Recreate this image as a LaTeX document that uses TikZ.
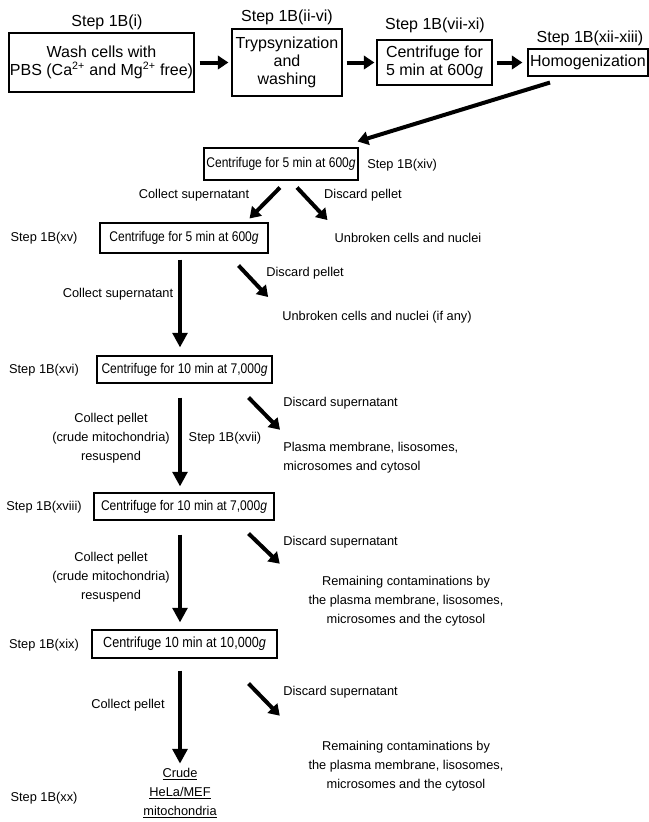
\documentclass[tikz,border=0pt]{standalone}
\usepackage{fontspec}
\setmainfont{Liberation Sans}
\newfontfamily\narrowsans[FakeStretch=0.86]{Liberation Sans}
\usepackage{tikz}
\usetikzlibrary{arrows.meta,positioning}
\tikzset{
  box/.style={rectangle, draw=black, line width=0.8pt, inner sep=0pt, align=center, font=\fontsize{12}{13.5}\selectfont},
  midbox/.style={box, font=\narrowsans\fontsize{10.5}{12}\selectfont},
  steplbl/.style={inner sep=0pt, font=\fontsize{12}{14}\selectfont},
  lbl/.style={inner sep=0pt, align=center, font=\fontsize{9.6}{14.3}\selectfont},
  flow/.style={-{Triangle[length=8pt, width=10pt]}, line width=3pt},
  drop/.style={-{Triangle[length=11pt, width=11pt]}, line width=3pt},
}

\begin{document}
\begin{tikzpicture}[x=0.75pt, y=-0.75pt]
  \useasboundingbox (0,0) rectangle (649,822);
  % top row
  \node[steplbl] (st1) at (107,22) {Step 1B(i)};
  \node[steplbl] (st2) at (287,17) {Step 1B(ii-vi)};
  \node[steplbl] (st3) at (435,25) {Step 1B(vii-xi)};
  \node[steplbl] (st4) at (590,38) {Step 1B(xii-xiii)};
  \node[box, minimum width=138.75pt, minimum height=44.25pt] (wash) at (101.5,62.5)
    {Wash cells with\\PBS (Ca\textsuperscript{2+} and Mg\textsuperscript{2+} free)};
  \node[box, minimum width=82.5pt, minimum height=50.25pt] (tryp) at (287,62.5)
    {Trypsynization\\and\\washing};
  \node[box, minimum width=86.25pt, minimum height=33.75pt] (cent) at (434.5,62.5)
    {Centrifuge for\\5 min at 600\textit{g}};
  \node[box, minimum width=90pt, minimum height=20.25pt] (homog) at (588,62.5) {Homogenization};
  \draw[flow, shorten <=3.75pt, shorten >=2.25pt] (wash) -- (tryp);
  \draw[flow, shorten <=3pt, shorten >=1.5pt] (tryp) -- (cent);
  \draw[flow, shorten <=3pt, shorten >=3.75pt] (cent) -- (homog);

  % centrifugation steps
  \node[midbox, minimum width=115.5pt, minimum height=24pt] (c5a) at (281,164) {Centrifuge for 5 min at 600\textit{g}};
  \node[midbox, minimum width=126pt, minimum height=22.5pt] (c5b) at (184,238) {Centrifuge for 5 min at 600\textit{g}};
  \node[midbox, minimum width=131.25pt, minimum height=20.25pt] (c10a) at (184.5,369.5) {Centrifuge for 10 min at 7,000\textit{g}};
  \node[midbox, minimum width=135pt, minimum height=20.25pt] (c10b) at (184,506.5) {Centrifuge for 10 min at 7,000\textit{g}};
  \node[box, font=\narrowsans\fontsize{11}{12}\selectfont, minimum width=138.75pt, minimum height=21pt] (c10k) at (184.5,644)
    {Centrifuge 10 min at 10,000\textit{g}};
  \node[lbl, align=center] (crude) at (180,793)
    {\underline{Crude}\\\underline{HeLa/MEF}\\\underline{mitochondria}};

  \node[lbl, anchor=west] (stxiv) at (367,165) {Step 1B(xiv)};
  \node[lbl] (stxvii) at (225,438) {Step 1B(xvii)};
  \foreach \nm/\y/\t in {xv/238/xv, xvi/370/xvi, xviii/507/xviii, xix/645/xix, xx/798/xx}
    \node[lbl] (st\nm) at (44,\y) {Step 1B(\t)};

  % what is kept
  \node[lbl] (keep1) at (194,195) {Collect supernatant};
  \node[lbl] (keep2) at (118,294) {Collect supernatant};
  \node[lbl] (keep3) at (111,438) {Collect pellet\\(crude mitochondria)\\resuspend};
  \node[lbl] (keep4) at (111,577) {Collect pellet\\(crude mitochondria)\\resuspend};
  \node[lbl] (keep5) at (128,705) {Collect pellet};

  % what is thrown away
  \node[lbl] (drop1) at (363,195) {Discard pellet};
  \node[lbl, anchor=west] (drop2) at (266,273) {Discard pellet};
  \node[lbl, anchor=west] (drop3) at (283,403) {Discard supernatant};
  \node[lbl, anchor=west] (drop4) at (283,542) {Discard supernatant};
  \node[lbl, anchor=west] (drop5) at (283,692) {Discard supernatant};
  \node[lbl] (waste1) at (408,238) {Unbroken cells and nuclei};
  \node[lbl] (waste2) at (377,317) {Unbroken cells and nuclei (if any)};
  \node[lbl, align=left, anchor=west] (waste3) at (283,457.5) {Plasma membrane, lisosomes,\\microsomes and cytosol};
  \node[lbl] (waste4) at (406,601) {Remaining contaminations by\\the plasma membrane, lisosomes,\\microsomes and the cytosol};
  \node[lbl] (waste5) at (406,766) {Remaining contaminations by\\the plasma membrane, lisosomes,\\microsomes and the cytosol};

  \draw[flow] ([shift={(-38,6)}]homog.south) -- ([shift={(-1,-6)}]c5a.north east);
  \draw[flow] ([shift={(-1,7)}]c5a.south) -- ([shift={(-19,-4)}]c5b.north east);
  \draw[flow] ([shift={(16,7)}]c5a.south) -- ([shift={(-7,-13)}]waste1.north west);
  \draw[flow] ([shift={(-30,12)}]c5b.south east) -- ([shift={(-14,-20)}]waste2.west);
  \draw[flow] ([shift={(-24,14)}]c10a.south east) -- ([shift={(-3,-12)}]waste3.north west);
  \draw[flow] ([shift={(-26,13)}]c10b.south east) -- ([shift={(-28.5,-12)}]waste4.north west);
  \draw[flow] ([shift={(-29,25)}]c10k.south east) -- ([shift={(-28.5,-25)}]waste5.north west);
  \draw[drop] ([shift={(-4,6)}]c5b.south) -- ([shift={(-4.5,-8)}]c10a.north);
  \draw[drop] ([shift={(-4.5,14)}]c10a.south) -- ([shift={(-4,-6)}]c10b.north);
  \draw[drop] ([shift={(-4,14)}]c10b.south) -- ([shift={(-4.5,-7)}]c10k.north);
  \draw[drop] ([shift={(-4.5,12)}]c10k.south) -- ([shift={(0,-4)}]crude.north);
\end{tikzpicture}
\end{document}
